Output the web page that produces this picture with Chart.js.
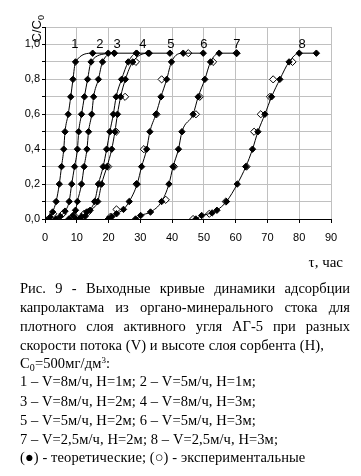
<!DOCTYPE html>
<html><head><meta charset="utf-8">
<script src="https://cdn.jsdelivr.net/npm/chart.js@4.4.0/dist/chart.umd.min.js"></script>
<style>
html,body{margin:0;padding:0;background:#fff;}
#wrap{position:relative;width:361px;height:476px;overflow:hidden;background:#fff;}
#c{position:absolute;left:0;top:0;}
.ln{position:absolute;left:20px;width:330px;font-family:'Liberation Serif','Times New Roman',serif;font-size:14.5px;letter-spacing:0.1px;line-height:18px;white-space:nowrap;color:#000;}
.j{text-align:justify;text-align-last:justify;white-space:normal;letter-spacing:0;}
.sb{font-size:10px;vertical-align:-3px;line-height:0;}
.sp{font-size:9px;vertical-align:5px;line-height:0;}
</style></head><body>
<div id="wrap">
<canvas id="c" width="361" height="280"></canvas>
<div class="ln j" style="top:279px">Рис. 9 - Выходные кривые динамики адсорбции</div>
<div class="ln j" style="top:298px">капролактама из органо-минерального стока для</div>
<div class="ln j" style="top:317px">плотного слоя активного угля АГ-5 при разных</div>
<div class="ln" style="top:336px">скорости потока (V) и высоте слоя сорбента (Н),</div>
<div class="ln" style="top:354px">C<span class="sb">0</span>=500мг/дм<span class="sp">3</span>:</div>
<div class="ln" style="top:372px">1 – V=8м/ч, Н=1м; 2 – V=5м/ч, Н=1м;</div>
<div class="ln" style="top:392px">3 – V=8м/ч, Н=2м; 4 – V=8м/ч, Н=3м;</div>
<div class="ln" style="top:411px">5 – V=5м/ч, Н=2м; 6 – V=5м/ч, Н=3м;</div>
<div class="ln" style="top:430px">7 – V=2,5м/ч, Н=2м; 8 – V=2,5м/ч, Н=3м;</div>
<div class="ln" style="top:448px">(●) - теоретические; (○) - экспериментальные</div>
</div>
<script>
// ---- data (time, h ; relative concentration C/C0) ----
const c1Time  = [0, 1.6, 2.4, 3.5, 4.5, 5.2, 5.9, 6.3, 7.3, 8.1, 8.8, 9.6, 15.0, 21.8];
const c1Ratio = [0, 0.01, 0.04, 0.1, 0.2, 0.3, 0.4, 0.5, 0.6, 0.7, 0.8, 0.9, 0.95, 0.95];
const c2Time  = [3.5, 4.8, 6.3, 7.6, 8.4, 9.3, 10.2, 10.6, 11.5, 12.4, 13.4, 14.5, 19.9];
const c2Ratio = [0, 0.015, 0.045, 0.1, 0.2, 0.3, 0.4, 0.5, 0.6, 0.7, 0.8, 0.9, 0.95];
const c3Time  = [7.5, 8.8, 9.6, 10.2, 11.5, 12.3, 13.2, 13.7, 14.7, 15.3, 16.8, 18.1, 21.8, 28.8];
const c3Ratio = [0, 0.02, 0.05, 0.1, 0.2, 0.3, 0.4, 0.5, 0.6, 0.7, 0.8, 0.9, 0.95, 0.95];
const c4Time  = [9.7, 11.5, 13.1, 15.6, 16.8, 18.3, 19.4, 20.4, 21.5, 22.4, 24.1, 26.2, 28.8, 32.5];
const c4Ratio = [0, 0.015, 0.04, 0.1, 0.2, 0.3, 0.4, 0.5, 0.6, 0.7, 0.8, 0.9, 0.95, 0.95];
const c5Time  = [10.8, 12.6, 14.2, 16.6, 17.8, 19.5, 21.0, 22.0, 22.8, 23.8, 25.3, 27.6, 32.8, 39.3];
const c5Ratio = [0, 0.015, 0.05, 0.1, 0.2, 0.3, 0.4, 0.5, 0.6, 0.7, 0.8, 0.9, 0.95, 0.95];
const c6Time  = [19.9, 21.0, 22.5, 24.7, 26.5, 29.0, 30.4, 32.0, 33.0, 34.9, 36.5, 38.3, 39.8, 43.5, 49.8];
const c6Ratio = [0, 0.013, 0.03, 0.055, 0.1, 0.2, 0.3, 0.4, 0.5, 0.6, 0.7, 0.8, 0.9, 0.95, 0.95];
const c7Time  = [28.5, 30.1, 33.2, 36.7, 39.0, 40.3, 42.0, 43.1, 46.6, 48.2, 50.3, 52.1, 54.8, 60.3];
const c7Ratio = [0, 0.02, 0.04, 0.1, 0.2, 0.3, 0.4, 0.5, 0.6, 0.7, 0.8, 0.9, 0.95, 0.95];
const c8Time  = [47.5, 49.3, 52.6, 54.1, 57.1, 60.5, 63.2, 65.3, 67.0, 69.2, 71.3, 73.9, 76.8, 80.0, 85.4];
const c8Ratio = [0, 0.02, 0.035, 0.05, 0.1, 0.2, 0.3, 0.4, 0.5, 0.6, 0.7, 0.8, 0.9, 0.95, 0.95];
// experimental points (open diamonds)
const expTime  = [2.6, 5.6, 9.2, 12.3, 13.6, 19.9, 22.4, 25.2, 28.6, 20.6, 22.5, 28.8, 31.1, 35.1, 36.7, 45.1, 38.0, 40.6, 47.5, 48.7, 52.9, 60.3, 46.6, 51.7, 56.9, 63.4, 65.8, 67.9, 70.8, 71.8, 77.9];
const expRatio = [0.03, 0.03, 0.02, 0.03, 0.04, 0.3, 0.5, 0.7, 0.9, 0.013, 0.055, 0.2, 0.4, 0.6, 0.8, 0.95, 0.11, 0.3, 0.6, 0.7, 0.9, 0.95, 0.0, 0.03, 0.1, 0.3, 0.5, 0.6, 0.7, 0.8, 0.9];
// curve labels
const curveNames = ['1', '2', '3', '4', '5', '6', '7', '8'];
const curveLabelTime = [9.4, 17.3, 22.7, 30.8, 39.6, 50.0, 60.4, 80.9];
const curveLabelRatio = 1.0;
// axis ticks
const xTicksMax = 90, xStep = 10, yMax = 1.1, yStep = 0.1;

const pairs = (xs, ys) => xs.map((x, i) => ({x: x, y: ys[i]}));
const theory = [[c1Time,c1Ratio],[c2Time,c2Ratio],[c3Time,c3Ratio],[c4Time,c4Ratio],
                [c5Time,c5Ratio],[c6Time,c6Ratio],[c7Time,c7Ratio],[c8Time,c8Ratio]];
const datasets = theory.map(([xs, ys]) => ({
  type: 'line', data: pairs(xs, ys), borderColor: '#000', borderWidth: 1,
  backgroundColor: '#000', pointStyle: 'rectRot', pointRadius: 3.2,
  pointBorderWidth: 1, pointBorderColor: '#000', pointBackgroundColor: '#000',
  cubicInterpolationMode: 'monotone', fill: false
}));
datasets.push({
  type: 'scatter', data: pairs(expTime, expRatio), showLine: false,
  pointStyle: 'rectRot', pointRadius: 3.6, pointBorderWidth: 1,
  pointBorderColor: '#000', pointBackgroundColor: '#fff'
});

const textPlugin = {
  id: 'texts',
  afterDraw(chart) {
    const ctx = chart.ctx, xs = chart.scales.x, ys = chart.scales.y;
    ctx.save();
    ctx.fillStyle = '#000';
    ctx.font = '13px "Liberation Sans", Arial, sans-serif';
    ctx.textAlign = 'center'; ctx.textBaseline = 'middle';
    curveNames.forEach((n, i) => {
      ctx.fillText(n, xs.getPixelForValue(curveLabelTime[i]), ys.getPixelForValue(curveLabelRatio));
    });
    // y axis title C/C0 rotated
    const tx = xs.left - 4, ty = ys.getPixelForValue(1.0) - 2;
    ctx.translate(tx, ty);
    ctx.rotate(-Math.PI / 2);
    ctx.textAlign = 'left'; ctx.textBaseline = 'alphabetic';
    ctx.font = '13px "Liberation Sans", Arial, sans-serif';
    ctx.fillText('C/C', 0, 0);
    const w = ctx.measureText('C/C').width;
    ctx.font = '9px "Liberation Sans", Arial, sans-serif';
    ctx.fillText('0', w, 3);
    ctx.restore();
    // x axis title
    ctx.save();
    ctx.fillStyle = '#000';
    ctx.font = '15px "Liberation Serif", "Times New Roman", serif';
    ctx.textAlign = 'right'; ctx.textBaseline = 'middle';
    ctx.fillText('τ, час', xs.getPixelForValue(xTicksMax) + 12, ys.bottom + 44);
    ctx.restore();
  }
};

new Chart(document.getElementById('c'), {
  data: { datasets },
  options: {
    responsive: false, animation: false, devicePixelRatio: 1,
    layout: { padding: { top: 27, right: 30, left: 0, bottom: 0 } },
    plugins: { legend: { display: false }, tooltip: { enabled: false } },
    scales: {
      x: {
        type: 'linear', min: 0, max: xTicksMax,
        ticks: { stepSize: xStep, color: '#000', padding: 8, autoSkip: false, maxRotation: 0,
                 font: { family: '"Liberation Sans", Arial, sans-serif', size: 11 } },
        grid: { color: '#c0c0c0', tickColor: '#000', tickLength: 4, lineWidth: 1 },
        border: { color: '#000', width: 1 },
        afterFit(s) { s.height = 61; }
      },
      y: {
        type: 'linear', min: 0, max: yMax,
        ticks: { stepSize: yStep, color: '#000', padding: 2, autoSkip: false,
                 font: { family: '"Liberation Sans", Arial, sans-serif', size: 11 },
                 callback(v) { const k = Math.round(v * 10); return (k % 2 === 0 && k <= 10) ? (k / 10).toFixed(1).replace('.', ',') : ''; } },
        grid: { color: '#c0c0c0', tickColor: '#000', tickLength: 3, lineWidth: 1 },
        border: { color: '#000', width: 1 },
        afterFit(s) { s.width = 45; }
      }
    }
  },
  plugins: [textPlugin]
});
</script>
</body></html>
